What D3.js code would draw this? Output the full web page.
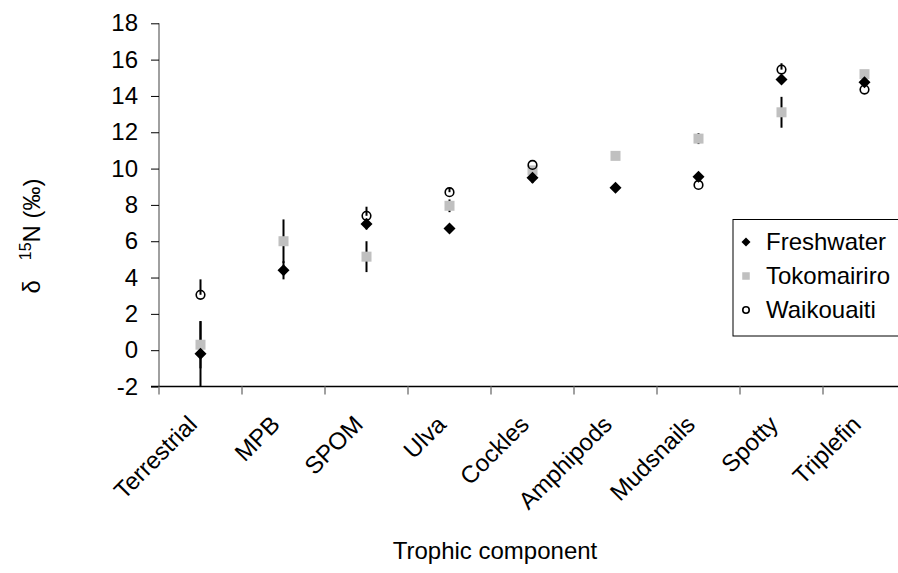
<!DOCTYPE html>
<html>
<head>
<meta charset="utf-8">
<script src="https://cdn.jsdelivr.net/npm/d3@7"></script>
<style>
  body { margin: 0; background: #fff; }
  svg { display: block; font-family: Arial, "Liberation Sans", sans-serif; }
</style>
</head>
<body>
<svg id="chart" width="898" height="573"></svg>
<script>
// Trophic components along the x axis
const categories = ["Terrestrial", "MPB", "SPOM", "Ulva", "Cockles", "Amphipods", "Mudsnails", "Spotty", "Triplefin"];

// Mean δ15N (‰) for each estuary; null where no sample
const freshwater  = [-0.2, 4.4, 6.95, 6.7, 9.5, 8.95, 9.55, 14.9, 14.75];
const tokomairiro = [0.3, 6.0, 5.15, 7.95, 9.9, 10.7, 11.65, 13.1, 15.2];
const waikouaiti  = [3.05, null, 7.4, 8.7, 10.2, null, 9.1, 15.45, 14.35];

// Error bar extents (upper / lower amounts)
const freshwaterErrPlus   = [1.8, 0.5, 0.3, 0, 0.3, 0, 0, 0.2, 0];
const freshwaterErrMinus  = [1.8, 0.5, 0.3, 0, 0.3, 0, 0, 0.2, 0];
const tokomairiroErrPlus  = [1.3, 1.2, 0.85, 0.35, 0, 0, 0.3, 0.85, 0];
const tokomairiroErrMinus = [1.3, 1.2, 0.85, 0.35, 0, 0, 0.3, 0.85, 0];
const waikouaitiErrPlus   = [0.85, 0, 0.5, 0.25, 0, 0, 0, 0.35, 0];
const waikouaitiErrMinus  = [0, 0, 0, 0, 0, 0, 0, 0, 0];

const yTicks = [-2, 0, 2, 4, 6, 8, 10, 12, 14, 16, 18];
const seriesNames = ["Freshwater", "Tokomairiro", "Waikouaiti"];

const series = [
  { name: seriesNames[0], values: freshwater,  plus: freshwaterErrPlus,  minus: freshwaterErrMinus,  shape: "diamond" },
  { name: seriesNames[1], values: tokomairiro, plus: tokomairiroErrPlus, minus: tokomairiroErrMinus, shape: "square" },
  { name: seriesNames[2], values: waikouaiti,  plus: waikouaitiErrPlus,  minus: waikouaitiErrMinus,  shape: "circle" }
];

const svg = d3.select("#chart");
const FONT = 24;

const x = d3.scaleBand().domain(categories).range([159, 906]).padding(0);
const y = d3.scaleLinear().domain([-2, 18]).range([386.5, 23.3]);
const cx = c => x(c) + x.bandwidth() / 2;

// Y axis
const yAxis = svg.append("g")
  .attr("transform", `translate(${x.range()[0]},0)`)
  .call(d3.axisLeft(y).tickValues(yTicks).tickSize(8).tickPadding(13).tickFormat(d3.format("d")));
yAxis.select(".domain").attr("stroke", "#808080").attr("stroke-width", 1.5).attr("d", `M0,${y(18)}V${y(-2)}`);
yAxis.selectAll(".tick line").attr("stroke", "#000").attr("stroke-width", 1);
yAxis.selectAll(".tick text").attr("font-size", FONT).attr("fill", "#000")
  .attr("font-family", "Arial, 'Liberation Sans', sans-serif")
  .text(d => d < 0 ? "-" + Math.abs(d) : d);

// X axis line and category boundary ticks
const xAxis = svg.append("g");
xAxis.append("line")
  .attr("x1", x.range()[0] - 8).attr("x2", x.range()[1])
  .attr("y1", y(-2)).attr("y2", y(-2))
  .attr("stroke", "#000").attr("stroke-width", 1.5);
xAxis.selectAll("line.tick")
  .data(categories)
  .join("line")
  .attr("class", "tick")
  .attr("x1", d => x(d)).attr("x2", d => x(d))
  .attr("y1", y(-2)).attr("y2", y(-2) + 8)
  .attr("stroke", "#808080").attr("stroke-width", 1.5);
xAxis.selectAll("text")
  .data(categories)
  .join("text")
  .attr("transform", d => `translate(${cx(d) - 8},420) rotate(-45)`)
  .attr("text-anchor", "end")
  .attr("dy", "0.35em")
  .attr("font-size", FONT)
  .text(d => d);

// Axis titles
svg.append("text")
  .attr("x", 495).attr("y", 559)
  .attr("text-anchor", "middle")
  .attr("font-size", FONT)
  .text("Trophic component");

const yTitle = svg.append("text")
  .attr("transform", "translate(40,236) rotate(-90)")
  .attr("text-anchor", "middle")
  .attr("font-size", FONT);
yTitle.append("tspan").text("δ");
yTitle.append("tspan").attr("dx", 20).attr("dy", -9).attr("font-size", 16).text("15");
yTitle.append("tspan").attr("dy", 9).text("N (‰)");

// Error bars (drawn beneath the markers)
const plot = svg.append("g");
series.forEach(s => {
  const pts = categories.map((c, i) => ({ c, v: s.values[i], p: s.plus[i], m: s.minus[i] }))
    .filter(d => d.v !== null && (d.p > 0 || d.m > 0));
  plot.append("g").selectAll("line")
    .data(pts)
    .join("line")
    .attr("x1", d => cx(d.c)).attr("x2", d => cx(d.c))
    .attr("y1", d => Math.min(y(d.v - d.m), y(-2)))
    .attr("y2", d => y(d.v + d.p))
    .attr("stroke", "#000").attr("stroke-width", 2);
});

// Marker shapes
function drawMarker(g, shape, px, py, scale) {
  const k = scale || 1;
  if (shape === "diamond") {
    const r = 6 * k;
    g.append("path")
      .attr("d", `M${px},${py - r}L${px + r},${py}L${px},${py + r}L${px - r},${py}Z`)
      .attr("fill", "#000");
  } else if (shape === "square") {
    const h = 5 * k;
    g.append("rect")
      .attr("x", px - h).attr("y", py - h).attr("width", 2 * h).attr("height", 2 * h)
      .attr("fill", "#c0c0c0");
  } else {
    g.append("circle")
      .attr("cx", px).attr("cy", py).attr("r", 4.3 * k)
      .attr("fill", "none").attr("stroke", "#000").attr("stroke-width", 1.6);
  }
}

// Markers: squares first, then diamonds, then circles on top
[series[1], series[0], series[2]].forEach(s => {
  const g = plot.append("g");
  categories.forEach((c, i) => {
    const v = s.values[i];
    if (v === null) return;
    drawMarker(g, s.shape, cx(c), y(v));
  });
});

// Legend
const legend = svg.append("g");
legend.append("rect")
  .attr("x", 733).attr("y", 219.5).attr("width", 200).attr("height", 116.5)
  .attr("fill", "#fff").attr("stroke", "#000").attr("stroke-width", 1);
series.forEach((s, i) => {
  const ly = 242 + i * 34;
  drawMarker(legend, s.shape, 746, ly, 0.75);
  legend.append("text")
    .attr("x", 766).attr("y", ly)
    .attr("dy", "0.35em")
    .attr("font-size", FONT)
    .text(s.name);
});
</script>
</body>
</html>
